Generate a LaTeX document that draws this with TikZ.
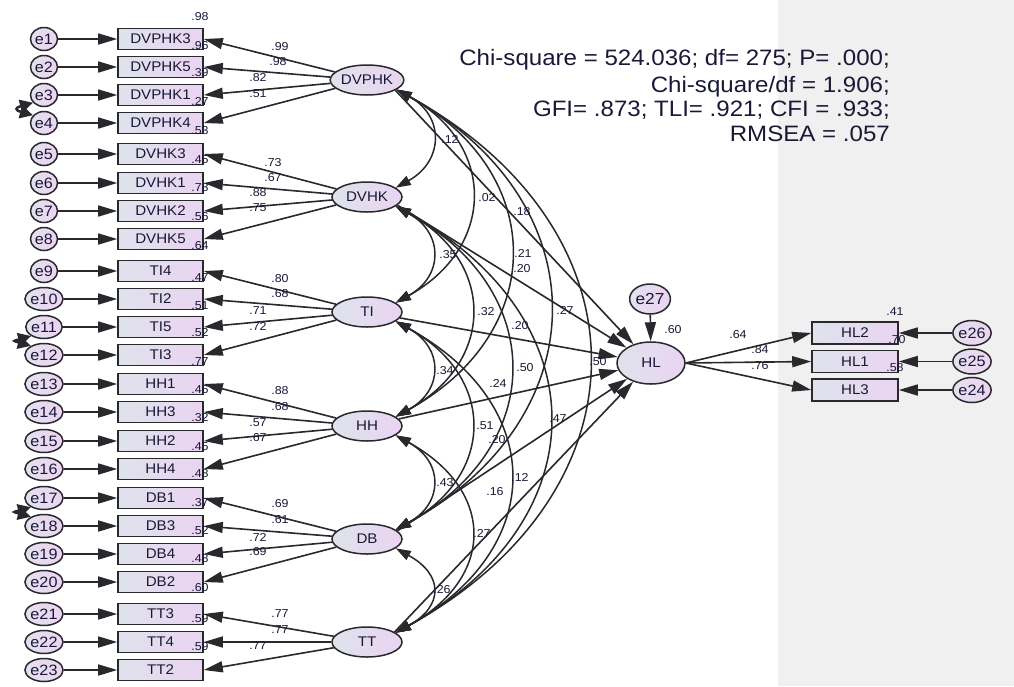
\documentclass[tikz,border=0pt]{standalone}
\usepackage{fontspec}
\setmainfont{Liberation Sans}[FakeStretch=1.08]
\usetikzlibrary{shapes.geometric,arrows.meta}
\definecolor{ln}{RGB}{40,40,45}
\definecolor{txt}{RGB}{25,25,55}
\definecolor{fl}{RGB}{222,227,236}
\definecolor{fr}{RGB}{234,212,241}
\definecolor{el}{RGB}{228,224,238}
\definecolor{er}{RGB}{237,212,241}
\definecolor{bg}{RGB}{240,240,240}
\tikzset{
  box/.style={draw=ln, line width=1.6pt, rectangle, minimum width=85pt, minimum height=21pt, inner sep=0pt, left color=fl, right color=fr, text=txt, font=\fontsize{14}{16}\selectfont},
  hlbox/.style={box, minimum width=86pt, minimum height=22pt},
  lat/.style={draw=ln, line width=1.5pt, ellipse, minimum width=70pt, minimum height=30pt, inner sep=0pt, left color=fl, right color=fr, text=txt, font=\fontsize{14}{16}\selectfont},
  err/.style={draw=ln, line width=1.5pt, ellipse, minimum width=27pt, minimum height=23pt, inner sep=0pt, left color=el, right color=er, text=txt, font=\fontsize{15}{17}\selectfont},
  lbl/.style={text=txt, font=\fontsize{11.5}{13}\selectfont, inner sep=0pt},
  hdr/.style={text=txt, font=\fontsize{22.3}{25}\selectfont, inner sep=0pt, anchor=base east},
  arr/.style={draw=ln, line width=1.6pt, -{Triangle[length=19pt,width=11pt]}},
  cov/.style={draw=ln, line width=1.5pt, {Triangle[length=15pt,width=10pt]}-{Triangle[length=15pt,width=10pt]}},
  ecov/.style={draw=ln, line width=2.5pt, {Triangle[length=13pt,width=13pt]}-{Triangle[length=13pt,width=13pt]}},
}
\begin{document}
\begin{tikzpicture}[x=1pt,y=1pt]
\useasboundingbox (0,0) rectangle (1014,-686);
\fill[white] (0,0) rectangle (1014,-686);
\fill[bg] (778,0) rectangle (1014,-686);

% header
\node[hdr] (h1) at (890,-65) {Chi-square = 524.036; df= 275; P= .000;};
\node[hdr] (h2) at (890,-92) {Chi-square/df = 1.906;};
\node[hdr] (h3) at (890,-116) {GFI= .873; TLI= .921; CFI = .933;};
\node[hdr] (h4) at (890,-141) {RMSEA = .057};

% latent variables
\node[lat] (DVPHK) at (367,-80) {DVPHK};
\node[lat] (DVHK) at (367,-197) {DVHK};
\node[lat] (TI) at (367,-312) {TI};
\node[lat] (HH) at (367,-426) {HH};
\node[lat] (DB) at (367,-539) {DB};
\node[lat] (TT) at (367,-642) {TT};
\node[lat, minimum width=68pt, minimum height=42pt] (HL) at (651,-363) {HL};
\node[err, minimum width=32pt, minimum height=30pt, font=\fontsize{16}{18}\selectfont] (e27) at (650,-299) {e27};

% indicators with errors
\foreach \i/\t/\y in {1/DVPHK3/39,2/DVPHK5/67,3/DVPHK1/95,4/DVPHK4/123,5/DVHK3/154,6/DVHK1/183,7/DVHK2/211,8/DVHK5/239,9/TI4/271,10/TI2/299,11/TI5/327,12/TI3/355,13/HH1/384,14/HH3/412,15/HH2/441,16/HH4/469,17/DB1/498,18/DB3/526,19/DB4/554,20/DB2/582,21/TT3/614,22/TT4/642,23/TT2/670}{
  \node[err] (e\i) at (44,-\y) {e\i};
  \node[box] (b\i) at (160.5,-\y) {\t};
  \draw[arr] (e\i) -- (b\i);
}

% loadings
\foreach \i/\l in {1/DVPHK,2/DVPHK,3/DVPHK,4/DVPHK,5/DVHK,6/DVHK,7/DVHK,8/DVHK,9/TI,10/TI,11/TI,12/TI,13/HH,14/HH,15/HH,16/HH,17/DB,18/DB,19/DB,20/DB,21/TT,22/TT,23/TT}{
  \draw[arr] (\l) -- (b\i.east);
}

% error covariances
\draw[ecov] (e3.215) .. controls +(-18,-5) and +(-18,5) .. (e4.145);
\draw[ecov] (e11.215) .. controls +(-18,-5) and +(-18,5) .. (e12.145);
\draw[ecov] (e17.215) .. controls +(-18,-5) and +(-18,5) .. (e18.145);

% correlations among latent variables
\foreach \a/\b/\d in {DVPHK/DVHK/48,DVHK/TI/48,TI/HH/48,HH/DB/48,DB/TT/48,
  DVPHK/TI/100,DVHK/HH/100,TI/DB/100,HH/TT/100,
  DVPHK/HH/152,DVHK/DB/152,TI/TT/152,
  DVPHK/DB/204,DVHK/TT/204,
  DVPHK/TT/256}{
  \draw[cov] (\a.-18) .. controls +({\d},{-0.55*\d}) and +({\d},{0.55*\d}) .. (\b.18);
}

% structural paths
\draw[arr] (DVPHK.-20) -- (HL);
\draw[arr] (DVHK.-15) -- (HL);
\draw[arr] (TI) -- (HL);
\draw[arr] (HH) -- (HL);
\draw[arr] (DB.15) -- (HL);
\draw[arr] (TT.20) -- (HL);
\draw[arr] (e27) -- (HL);

% HL indicators
\node[hlbox] (HL2) at (855,-333) {HL2};
\node[hlbox] (HL1) at (855,-361.5) {HL1};
\node[hlbox] (HL3) at (855,-390) {HL3};
\node[err, minimum width=26pt, minimum height=25pt] (e26) at (972,-333) {e26};
\node[err, minimum width=26pt, minimum height=25pt] (e25) at (972,-361.5) {e25};
\node[err, minimum width=26pt, minimum height=25pt] (e24) at (972,-390) {e24};
\draw[arr] (HL.east) -- (HL2.west);
\draw[arr] (HL.east) -- (HL1.west);
\draw[arr] (HL.east) -- (HL3.west);
\draw[arr] (e26) -- (HL2);
\draw[arr] (e25) -- (HL1);
\draw[arr] (e24) -- (HL3);

% squared multiple correlations
\foreach \i/\v/\y in {1/.98/17,2/.96/46,3/.39/73,4/.27/101,5/.53/131,6/.45/160,7/.78/188,8/.56/217,9/.64/246,10/.47/278,11/.51/306,12/.52/333,13/.77/362,14/.46/390,15/.32/418,16/.45/447,17/.48/474,18/.37/503,19/.52/531,20/.48/559,21/.60/588,22/.59/619,23/.59/647}{
  \node[lbl] (r\i) at (200,-\y) {\v};
}
\node[lbl] (r24) at (895,-312) {.41};
\node[lbl] (r25) at (897,-340) {.70};
\node[lbl] (r26) at (895,-368) {.58};
\node[lbl] (r27) at (673,-330) {.60};

% loading labels
\foreach \i/\v/\x/\y in {1/.99/280/47,2/.98/278/62,3/.82/258/78,4/.51/258/94,5/.73/273/163,6/.67/273/178,7/.88/258/193,8/.75/258/208,9/.80/280/279,10/.68/280/294,11/.71/258/311,12/.72/258/326,13/.88/280/391,14/.68/280/407,15/.57/258/423,16/.67/258/438,17/.69/280/504,18/.61/280/520,19/.72/258/537,20/.69/258/552,21/.77/280/614,22/.77/280/630,23/.77/258/646}{
  \node[lbl] (l\i) at (\x,-\y) {\v};
}
\node[lbl] (l24) at (738,-335) {.64};
\node[lbl] (l25) at (760,-350) {.84};
\node[lbl] (l26) at (760,-366) {.76};

% structural labels
\node[lbl] (s1) at (522,-212) {.18};
\node[lbl] (s2) at (522,-269) {.20};
\node[lbl] (s3) at (520,-326) {.20};
\node[lbl] (s4) at (498,-383) {.24};
\node[lbl] (s5) at (497,-440) {.20};
\node[lbl] (s6) at (495,-492) {.16};

% correlation labels
\node[lbl] (c1) at (450,-139) {.12};
\node[lbl] (c2) at (448,-255) {.35};
\node[lbl] (c3) at (445,-371) {.34};
\node[lbl] (c4) at (445,-483) {.43};
\node[lbl] (c5) at (442,-590) {.26};
\node[lbl] (c6) at (487,-198) {.02};
\node[lbl] (c7) at (486,-312) {.32};
\node[lbl] (c8) at (485,-426) {.51};
\node[lbl] (c9) at (482,-533) {.27};
\node[lbl] (c10) at (523,-253) {.21};
\node[lbl] (c11) at (525,-368) {.50};
\node[lbl] (c12) at (520,-477) {.12};
\node[lbl] (c13) at (565,-310) {.27};
\node[lbl] (c14) at (558,-419) {.47};
\node[lbl] (c15) at (598,-362) {.50};
\end{tikzpicture}
\end{document}
